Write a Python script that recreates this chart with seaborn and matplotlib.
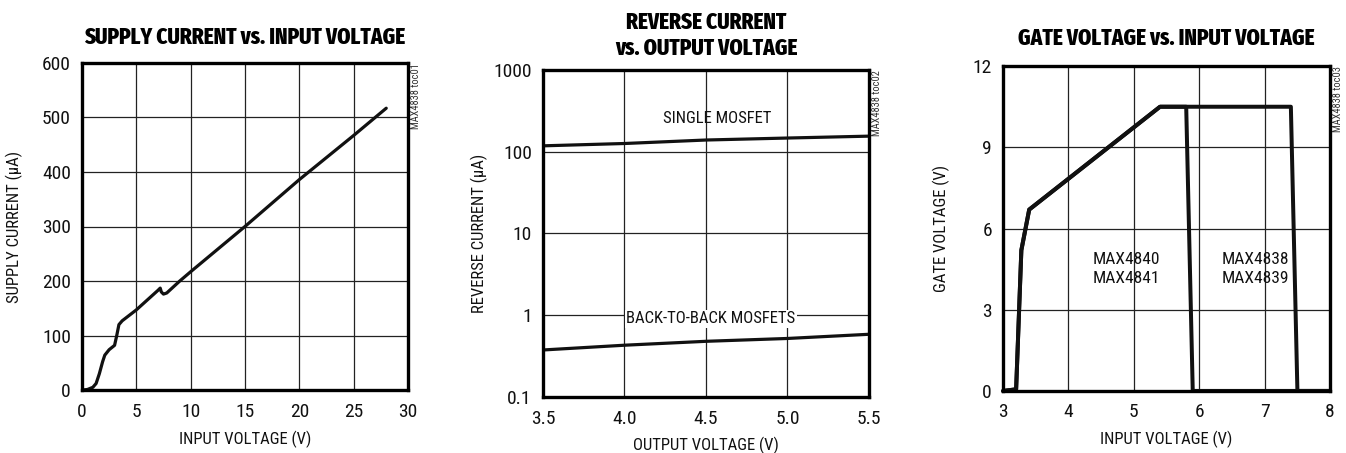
import numpy as np
import pandas as pd
import matplotlib
matplotlib.use("Agg")
import matplotlib.pyplot as plt
import seaborn as sns

# ---- data ----
# supply current vs input voltage
vin1 = [0, 0.5, 1.0, 1.3, 1.6, 1.9, 2.1, 2.5, 3.0, 3.2, 3.4, 3.7, 5, 6, 7, 7.2, 7.3, 7.5, 7.8, 9, 10, 15, 20, 25, 28]
isupply = [0, 1, 5, 12, 30, 52, 64, 74, 82, 100, 120, 127, 147, 165, 183, 187, 180, 176, 178, 200, 217, 300, 386, 467, 517]

# reverse current vs output voltage
vout = [3.5, 4.0, 4.5, 5.0, 5.5]
irev_single = [118, 126, 139, 147, 155]
irev_b2b = [0.376, 0.43, 0.48, 0.52, 0.585]

# gate voltage vs input voltage
vin3_a = [3.0, 3.2, 3.28, 3.4, 5.4, 5.8, 5.9, 8.0]
vgate_a = [0, 0.06, 5.2, 6.7, 10.5, 10.5, 0, 0]
vin3_b = [3.0, 3.2, 3.28, 3.4, 5.4, 7.4, 7.5, 8.0]
vgate_b = [0, 0.06, 5.2, 6.7, 10.5, 10.5, 0, 0]

sns.set_theme(style="white")
plt.rcParams['font.family'] = ['Roboto Condensed', 'Fira Sans Condensed', 'DejaVu Sans']
TITLE_FONT = ['Fira Sans Extra Condensed', 'Fira Sans Condensed', 'DejaVu Sans']

fig = plt.figure(figsize=(13.46, 4.53), dpi=100)
ax1 = fig.add_axes([0.0609, 0.139, 0.2422, 0.722])
ax2 = fig.add_axes([0.4034, 0.1236, 0.2422, 0.722])
ax3 = fig.add_axes([0.7452, 0.137, 0.243, 0.717])

LW = 2.3
tick_fs = 14
lab_fs = 12
title_fs = 16.5


def style_axes(ax, title, xlabel, ylabel, toc, tpad=13, ypad=12):
    for s in ax.spines.values():
        s.set_linewidth(2.4)
        s.set_color("black")
        s.set_visible(True)
    ax.grid(True, color="#222222", linewidth=0.9)
    ax.set_axisbelow(True)
    ax.tick_params(length=0, labelsize=tick_fs, colors="#111111")
    ax.tick_params(axis="x", pad=9)
    ax.tick_params(axis="y", pad=8)
    ax.set_xlabel(xlabel, fontsize=lab_fs, color="#111111", labelpad=7)
    ax.set_ylabel(ylabel, fontsize=lab_fs, color="#111111", labelpad=ypad)
    ax.set_title(title, fontsize=title_fs, fontweight=800, family=TITLE_FONT,
                 color="black", pad=tpad, linespacing=1.15)
    ax.text(1.025, 1.0, toc, transform=ax.transAxes, rotation=90,
            fontsize=7.5, color="#333333", ha="center", va="top")


# panel 1
df1 = pd.DataFrame({"v": vin1, "i": isupply})
sns.lineplot(data=df1, x="v", y="i", ax=ax1, color="#111111", linewidth=LW, sort=False, estimator=None)
ax1.set_xlim(0, 30)
ax1.set_ylim(0, 600)
ax1.set_xticks(np.arange(0, 31, 5))
ax1.set_yticks(np.arange(0, 601, 100))
style_axes(ax1, "SUPPLY CURRENT vs. INPUT VOLTAGE", "INPUT VOLTAGE (V)",
           "SUPPLY CURRENT (\u00b5A)", "MAX4838 toc01", tpad=14, ypad=14)

# panel 2
df2 = pd.DataFrame({"v": vout * 2, "i": irev_single + irev_b2b,
                    "s": ["single"] * 5 + ["b2b"] * 5})
sns.lineplot(data=df2, x="v", y="i", units="s", ax=ax2, color="#111111", linewidth=LW,
             sort=False, estimator=None)
ax2.set_yscale("log")
ax2.set_xlim(3.5, 5.5)
ax2.set_ylim(0.1, 1000)
ax2.set_xticks([3.5, 4.0, 4.5, 5.0, 5.5])
ax2.set_xticklabels(["3.5", "4.0", "4.5", "5.0", "5.5"])
ax2.set_yticks([0.1, 1, 10, 100, 1000])
ax2.set_yticklabels(["0.1", "1", "10", "100", "1000"])
ax2.minorticks_off()
style_axes(ax2, "REVERSE CURRENT\nvs. OUTPUT VOLTAGE", "OUTPUT VOLTAGE (V)",
           "REVERSE CURRENT (\u00b5A)", "MAX4838 toc02", tpad=11, ypad=4)
ax2.text(4.57, 256, "SINGLE MOSFET", fontsize=lab_fs, ha="center", va="center", color="#111111")
ax2.text(4.53, 0.9, "BACK-TO-BACK MOSFETS", fontsize=lab_fs, ha="center", va="center", color="#111111",
         bbox=dict(facecolor="white", edgecolor="none", pad=1))

# panel 3
df3 = pd.DataFrame({"v": vin3_a + vin3_b, "g": vgate_a + vgate_b,
                    "s": ["a"] * len(vin3_a) + ["b"] * len(vin3_b)})
sns.lineplot(data=df3, x="v", y="g", units="s", ax=ax3, color="#111111", linewidth=LW * 1.25,
             sort=False, estimator=None, clip_on=False)
ax3.set_xlim(3, 8)
ax3.set_ylim(0, 12)
ax3.set_xticks(np.arange(3, 9, 1))
ax3.set_yticks(np.arange(0, 13, 3))
style_axes(ax3, "GATE VOLTAGE vs. INPUT VOLTAGE", "INPUT VOLTAGE (V)",
           "GATE VOLTAGE (V)", "MAX4838 toc03", tpad=15, ypad=16)
ax3.text(4.89, 4.5, "MAX4840\nMAX4841", fontsize=lab_fs + 0.5, ha="center", va="center",
         color="#111111", linespacing=1.3)
ax3.text(6.85, 4.5, "MAX4838\nMAX4839", fontsize=lab_fs + 0.5, ha="center", va="center",
         color="#111111", linespacing=1.3)

fig.savefig("out.png", dpi=100)
